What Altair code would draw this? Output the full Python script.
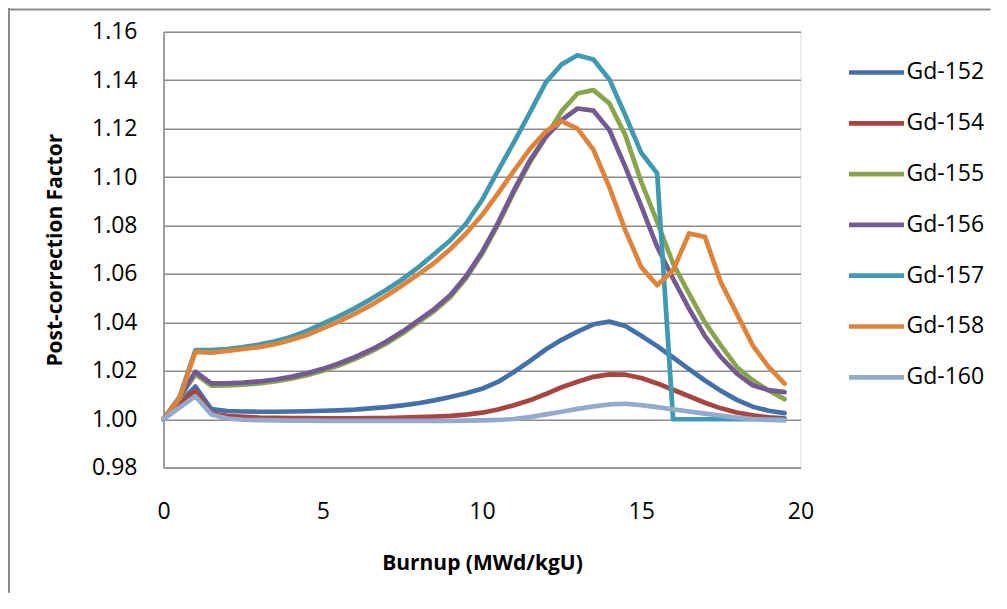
import altair as alt
import pandas as pd

burnup = [0.0, 0.5, 1.0, 1.5, 2.0, 2.5, 3.0, 3.5, 4.0, 4.5,
          5.0, 5.5, 6.0, 6.5, 7.0, 7.5, 8.0, 8.5, 9.0, 9.5,
          10.0, 10.5, 11.0, 11.5, 12.0, 12.5, 13.0, 13.5, 14.0, 14.5,
          15.0, 15.5, 16.0, 16.5, 17.0, 17.5, 18.0, 18.5, 19.0, 19.5]

gd152 = [1.000, 1.0068, 1.0135, 1.0042, 1.0034, 1.0032, 1.0031, 1.0031, 1.0032, 1.0033,
         1.0035, 1.0037, 1.0040, 1.0045, 1.0050, 1.0057, 1.0066, 1.0078, 1.0092, 1.0107,
         1.0126, 1.0154, 1.0195, 1.0240, 1.0288, 1.0328, 1.0362, 1.0392, 1.0403, 1.0385,
         1.0345, 1.0302, 1.0255, 1.0207, 1.0160, 1.0117, 1.0080, 1.0052, 1.0035, 1.0025]
gd154 = [1.000, 1.0060, 1.0118, 1.0023, 1.0014, 1.0010, 1.0007, 1.0006, 1.0005, 1.0005,
         1.0004, 1.0004, 1.0004, 1.0005, 1.0005, 1.0007, 1.0009, 1.0011, 1.0014, 1.0019,
         1.0027, 1.0040, 1.0058, 1.0078, 1.0104, 1.0132, 1.0155, 1.0175, 1.0185, 1.0184,
         1.0170, 1.0148, 1.0122, 1.0095, 1.0068, 1.0045, 1.0028, 1.0016, 1.0008, 1.0004]
gd155 = [1.000, 1.0085, 1.0186, 1.0139, 1.0140, 1.0143, 1.0148, 1.0156, 1.0167, 1.0182,
         1.0200, 1.0222, 1.0248, 1.0278, 1.0313, 1.0354, 1.0400, 1.0447, 1.0504, 1.0582,
         1.0682, 1.0802, 1.0937, 1.1060, 1.1165, 1.1272, 1.1345, 1.1359, 1.1304, 1.1173,
         1.0980, 1.0815, 1.0643, 1.0519, 1.0400, 1.0305, 1.0216, 1.0161, 1.0119, 1.0083]
gd156 = [1.000, 1.0090, 1.0196, 1.0148, 1.0148, 1.0151, 1.0156, 1.0164, 1.0175, 1.0190,
         1.0208, 1.0230, 1.0256, 1.0286, 1.0321, 1.0362, 1.0408, 1.0455, 1.0512, 1.0590,
         1.0690, 1.0810, 1.0945, 1.1068, 1.1165, 1.1235, 1.1283, 1.1274, 1.1194, 1.1042,
         1.0880, 1.0712, 1.0580, 1.0457, 1.0343, 1.0257, 1.0188, 1.0140, 1.0120, 1.0112]
gd157 = [1.000, 1.0090, 1.0285, 1.0285, 1.0290, 1.0298, 1.0308, 1.0322, 1.0340, 1.0365,
         1.0395, 1.0425, 1.0458, 1.0495, 1.0535, 1.0578, 1.0627, 1.0682, 1.0738, 1.0808,
         1.0905, 1.1025, 1.1143, 1.1265, 1.1390, 1.1465, 1.1503, 1.1485, 1.1403, 1.1255,
         1.1100, 1.1015, 1.000, 1.000, 1.000, 1.000, 1.000, 1.000, 1.000, 1.000]
gd158 = [1.000, 1.0087, 1.0278, 1.0275, 1.0282, 1.0290, 1.0298, 1.0310, 1.0327, 1.0348,
         1.0375, 1.0403, 1.0435, 1.0470, 1.0510, 1.0553, 1.0598, 1.0645, 1.0702, 1.0767,
         1.0843, 1.0932, 1.1025, 1.1115, 1.1188, 1.1231, 1.1200, 1.1112, 1.0958, 1.0780,
         1.0628, 1.0553, 1.0615, 1.0767, 1.0753, 1.0565, 1.0436, 1.0305, 1.0216, 1.0147]
gd160 = [1.000, 1.0048, 1.0095, 1.0020, 1.0003, 0.9998, 0.9996, 0.9995, 0.9994, 0.9994,
         0.9993, 0.9993, 0.9993, 0.9993, 0.9993, 0.9993, 0.9993, 0.9993, 0.9993, 0.9994,
         0.9995, 0.9997, 1.0001, 1.0009, 1.0020, 1.0031, 1.0043, 1.0053, 1.0061, 1.0064,
         1.0058, 1.0050, 1.0041, 1.0032, 1.0023, 1.0015, 1.0007, 1.0001, 0.9997, 0.9995]

series_names = ["Gd-152", "Gd-154", "Gd-155", "Gd-156", "Gd-157", "Gd-158", "Gd-160"]
series_values = [gd152, gd154, gd155, gd156, gd157, gd158, gd160]
series_colors = ["#4470AA", "#A94541", "#89A54C", "#735A93", "#3F99B1", "#DD843A", "#93AACF"]

y_ticks = [0.98, 1.00, 1.02, 1.04, 1.06, 1.08, 1.10, 1.12, 1.14, 1.16]
x_ticks = [0, 5, 10, 15, 20]

rows = []
for name, vals in zip(series_names, series_values):
    for b, v in zip(burnup, vals):
        rows.append({"Burnup": b, "Factor": v, "Series": name})
df = pd.DataFrame(rows)
frame_df = pd.DataFrame({"k": [0]})

W, H = 637, 436
PAD_L, PAD_T, PAD_R, PAD_B = 155.5, 23.7, 190, 125
FONT = "Open Sans"
GRID = "#8C8C8C"

lines = alt.Chart(df).mark_line(strokeWidth=4.7, strokeJoin="round", strokeCap="round").encode(
    x=alt.X("Burnup:Q",
            scale=alt.Scale(domain=[0, 20], nice=False, zero=False),
            axis=alt.Axis(values=x_ticks, grid=False, ticks=False, tickSize=0,
                          domain=True, domainColor=GRID, domainWidth=1.6,
                          labelFont=FONT, labelFontSize=23, labelColor="#000000",
                          labelBaseline="middle", labelPadding=43.7, labelFlush=False,
                          title="Burnup (MWd/kgU)", titleFont=FONT, titleFontSize=21,
                          titleFontWeight="bold", titleColor="#000000",
                          titleX=W / 2, titleY=95.7, titleBaseline="middle",
                          titleAlign="center")),
    y=alt.Y("Factor:Q",
            scale=alt.Scale(domain=[0.98, 1.16], nice=False, zero=False),
            axis=alt.Axis(values=y_ticks, format=".2f", grid=True, gridColor=GRID,
                          gridWidth=1.6, ticks=False, tickSize=0, labelFlush=False,
                          domain=True, domainColor=GRID, domainWidth=1.6,
                          labelFont=FONT, labelFontSize=23, labelColor="#000000",
                          labelPadding=26.5,
                          title="Post-correction Factor", titleFont=FONT, titleFontSize=21,
                          titleFontWeight="bold", titleColor="#000000",
                          titleX=-108.5, titleY=H / 2, titleAngle=270,
                          titleBaseline="middle", titleAlign="center")),
    color=alt.Color("Series:N",
                    scale=alt.Scale(domain=series_names, range=series_colors),
                    legend=alt.Legend(title=None, orient="none", legendX=683, legendY=10.8,
                                      symbolType="stroke", symbolSize=3025,
                                      symbolStrokeWidth=4.7, labelFont=FONT,
                                      labelFontSize=23, labelColor="#000000",
                                      labelOffset=0, rowPadding=8.8, padding=0)),
)

frame_left = alt.Chart(frame_df).mark_rect(color="#8C8C8C").encode(
    x=alt.value(0 - PAD_L), x2=alt.value(2 - PAD_L),
    y=alt.value(-PAD_T), y2=alt.value(H + PAD_B))
frame_top = alt.Chart(frame_df).mark_rect(color="#8C8C8C").encode(
    x=alt.value(0 - PAD_L), x2=alt.value(W + PAD_R),
    y=alt.value(0.5 - PAD_T), y2=alt.value(2.5 - PAD_T))

chart = alt.layer(lines, frame_left, frame_top).properties(
    width=W, height=H,
    autosize=alt.AutoSizeParams(type="none"),
    padding={"left": PAD_L, "top": PAD_T, "right": PAD_R, "bottom": PAD_B},
).configure_view(stroke=None).configure(background="white")

chart.save("out.html", embed_options={"renderer": "svg", "actions": False})
